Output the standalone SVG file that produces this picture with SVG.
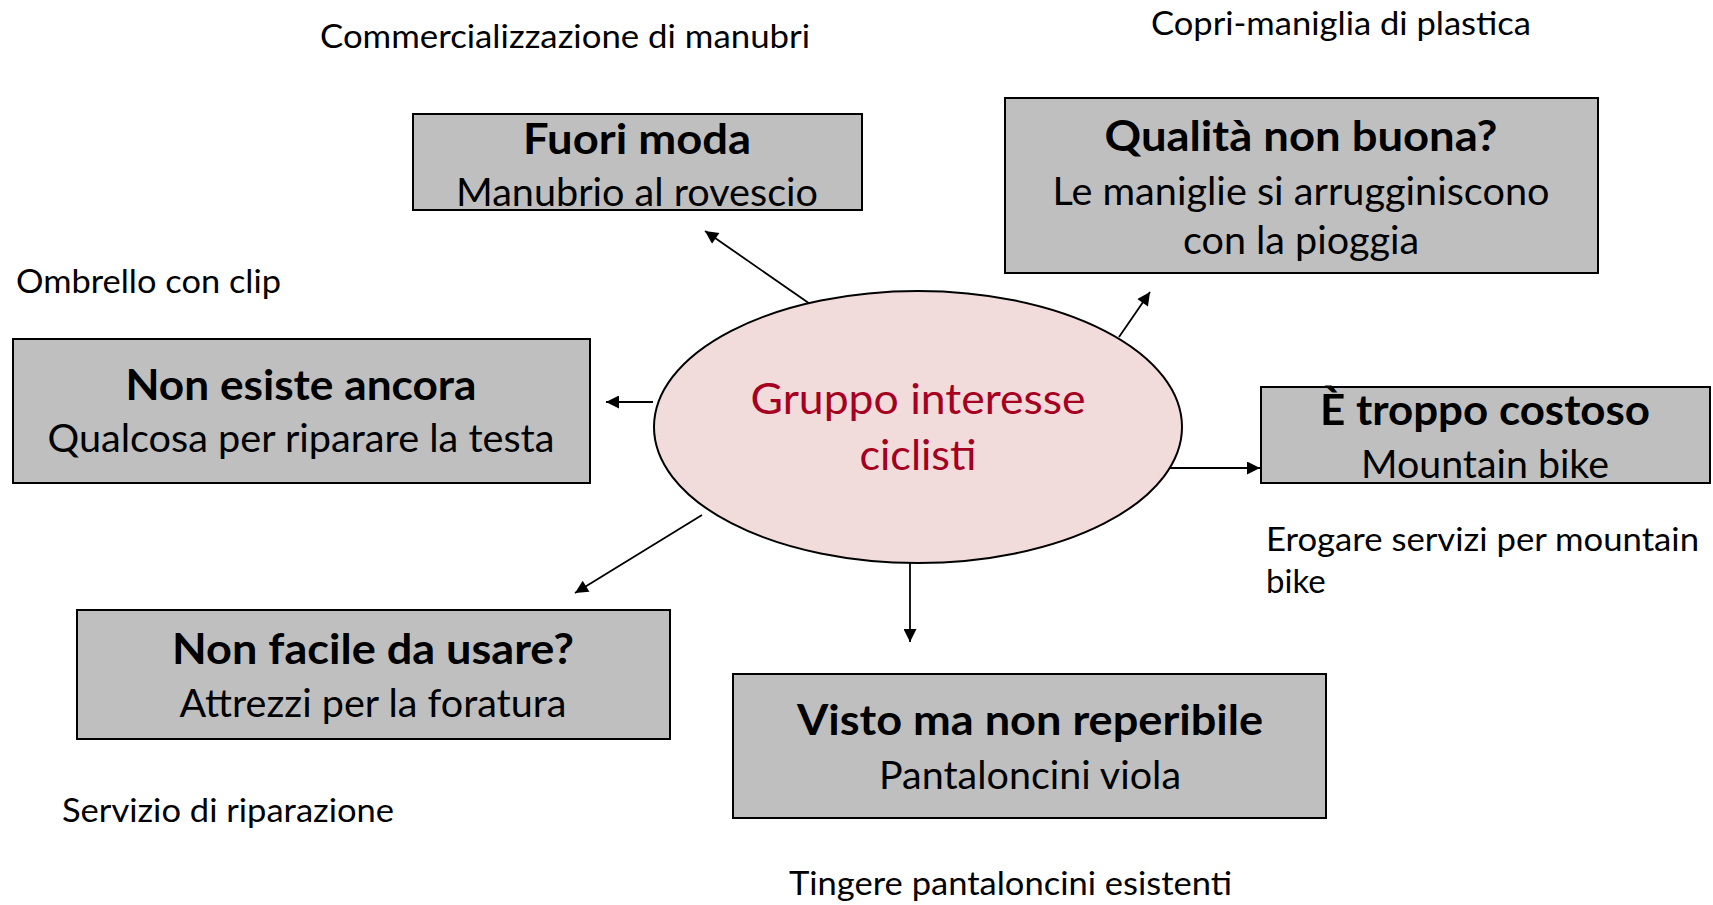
<svg xmlns="http://www.w3.org/2000/svg" width="1713" height="905" viewBox="0 0 1713 905">
<defs>
<style>
.box{fill:#BFBFBF;stroke:#000;stroke-width:2}
.t{font-family:Lato,"Open Sans","Liberation Sans",sans-serif;fill:#000;text-anchor:middle}
.b{font-weight:bold;font-size:42px}
.r{font-size:38px}
.a{font-family:Lato,"Open Sans","Liberation Sans",sans-serif;font-size:33px;fill:#000}
.c{stroke:#000;stroke-width:1.8;fill:none;marker-end:url(#ah)}
</style>
<marker id="ah" viewBox="0 0 10 10" refX="10" refY="5" markerWidth="15" markerHeight="13" markerUnits="userSpaceOnUse" orient="auto">
<path d="M0,0 L10,5 L0,10 z" fill="#000"/>
</marker>
</defs>
<rect width="1713" height="905" fill="#fff"/>

<g id="annotations">
<text class="a" x="320" y="48" textLength="490" lengthAdjust="spacingAndGlyphs">Commercializzazione di manubri</text>
<text class="a" x="1151" y="35" textLength="380" lengthAdjust="spacingAndGlyphs">Copri-maniglia di plastica</text>
<text class="a" x="16" y="293" textLength="265" lengthAdjust="spacingAndGlyphs">Ombrello con clip</text>
<text class="a" x="1266" y="551" textLength="433" lengthAdjust="spacingAndGlyphs">Erogare servizi per mountain</text>
<text class="a" x="1266" y="593">bike</text>
<text class="a" x="62" y="822" textLength="332" lengthAdjust="spacingAndGlyphs">Servizio di riparazione</text>
<text class="a" x="789" y="895" textLength="443" lengthAdjust="spacingAndGlyphs">Tingere pantaloncini esistenti</text>
</g>

<g id="connectors">
<line class="c" x1="813" y1="306" x2="705" y2="231"/>
<line class="c" x1="1119" y1="337" x2="1150" y2="292"/>
<line class="c" x1="653" y1="402" x2="606" y2="402"/>
<line class="c" x1="1166" y1="468" x2="1260" y2="468"/>
<line class="c" x1="702" y1="515" x2="575" y2="593"/>
<line class="c" x1="910" y1="563" x2="910" y2="642"/>
</g>

<g id="center">
<ellipse cx="918" cy="427" rx="264" ry="136" fill="#F2DCDB" stroke="#000" stroke-width="2"/>
<text class="t" x="918" y="414" font-size="43" fill="#A50021" style="fill:#A50021" textLength="335" lengthAdjust="spacingAndGlyphs">Gruppo interesse</text>
<text class="t" x="918" y="470" font-size="43" style="fill:#A50021">ciclisti</text>
</g>

<g id="fuori-moda">
<rect class="box" x="413" y="114" width="449" height="96"/>
<text class="t b" x="637" y="154" textLength="228" lengthAdjust="spacingAndGlyphs">Fuori moda</text>
<text class="t r" x="637" y="206" textLength="362" lengthAdjust="spacingAndGlyphs">Manubrio al rovescio</text>
</g>

<g id="qualita">
<rect class="box" x="1005" y="98" width="593" height="175"/>
<text class="t b" x="1301" y="151" textLength="393" lengthAdjust="spacingAndGlyphs">Qualità non buona?</text>
<text class="t r" x="1301" y="205" textLength="497" lengthAdjust="spacingAndGlyphs">Le maniglie si arrugginiscono</text>
<text class="t r" x="1301" y="254" textLength="236" lengthAdjust="spacingAndGlyphs">con la pioggia</text>
</g>

<g id="non-esiste">
<rect class="box" x="13" y="339" width="577" height="144"/>
<text class="t b" x="301" y="400" textLength="351" lengthAdjust="spacingAndGlyphs">Non esiste ancora</text>
<text class="t r" x="301" y="452" textLength="507" lengthAdjust="spacingAndGlyphs">Qualcosa per riparare la testa</text>
</g>

<g id="costoso">
<rect class="box" x="1261" y="387" width="449" height="96"/>
<text class="t b" x="1485" y="425" textLength="330" lengthAdjust="spacingAndGlyphs">È troppo costoso</text>
<text class="t r" x="1485" y="478" textLength="248" lengthAdjust="spacingAndGlyphs">Mountain bike</text>
</g>

<g id="non-facile">
<rect class="box" x="77" y="610" width="593" height="129"/>
<text class="t b" x="373" y="664" textLength="402" lengthAdjust="spacingAndGlyphs">Non facile da usare?</text>
<text class="t r" x="373" y="717" textLength="387" lengthAdjust="spacingAndGlyphs">Attrezzi per la foratura</text>
</g>

<g id="visto">
<rect class="box" x="733" y="674" width="593" height="144"/>
<text class="t b" x="1030" y="735" textLength="466" lengthAdjust="spacingAndGlyphs">Visto ma non reperibile</text>
<text class="t r" x="1030" y="789" textLength="302" lengthAdjust="spacingAndGlyphs">Pantaloncini viola</text>
</g>
</svg>
